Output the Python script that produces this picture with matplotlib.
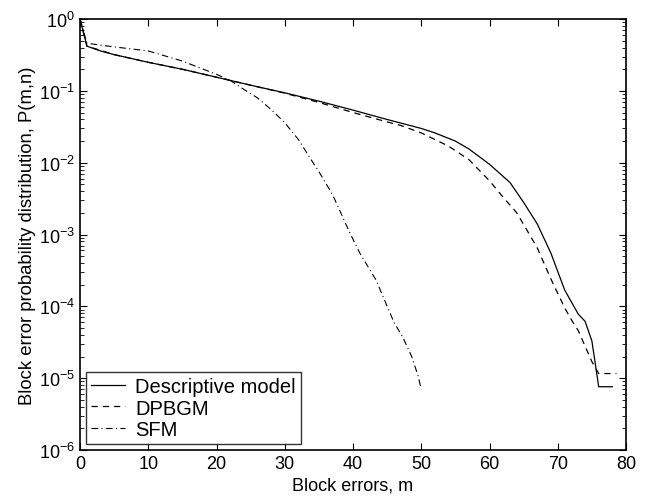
import numpy as np
import matplotlib.pyplot as plt

plt.rcParams['font.family'] = ['Liberation Sans', 'DejaVu Sans']

# Descriptive model (solid)
x_desc = [0, 1, 3, 5, 10, 15, 20, 25, 30, 35, 40, 45, 50, 52, 55, 57, 60, 63, 65, 67,
          69, 71, 72, 73, 74, 75, 76, 77, 78]
y_desc = [1.0, 0.42, 0.36, 0.32, 0.25, 0.2, 0.155, 0.12, 0.094, 0.072, 0.054, 0.040,
          0.030, 0.026, 0.020, 0.0155, 0.0095, 0.0053, 0.0028, 0.0014,
          5.5e-4, 1.7e-4, 1.15e-4, 7.8e-5, 6.2e-5, 3.3e-5, 7.6e-6, 7.6e-6, 7.6e-6]

# DPBGM (dashed)
x_dp = [0, 1, 5, 10, 15, 20, 25, 30, 35, 40, 45, 47, 50, 54, 57, 60, 62, 64, 66, 67,
        69, 71, 72, 73, 74, 75, 76, 77, 78, 78.6]
y_dp = [1.0, 0.42, 0.32, 0.25, 0.2, 0.155, 0.12, 0.093, 0.069, 0.05, 0.037, 0.033,
        0.026, 0.017, 0.011, 0.0056, 0.0033, 0.0020, 9.5e-4, 6.5e-4,
        2.4e-4, 9.6e-5, 6.5e-5, 4.6e-5, 2.8e-5, 1.7e-5, 1.16e-5, 1.16e-5, 1.16e-5, 1.16e-5]

# SFM (dash-dot)
x_sfm = [0, 1, 5, 10, 15, 20, 22, 24, 26, 28, 30, 32, 34, 35, 37, 39.5, 41, 43.4,
         45, 46, 47.3, 48.6, 49.5, 50]
y_sfm = [1.0, 0.46, 0.41, 0.36, 0.26, 0.17, 0.14, 0.105, 0.08, 0.055, 0.036, 0.021,
         0.0105, 0.0075, 0.0036, 1.07e-3, 5.5e-4, 2.3e-4,
         1.0e-4, 6e-5, 3.7e-5, 2.0e-5, 1.1e-5, 7e-6]

fig = plt.figure(figsize=(6.51, 5.02), dpi=100)
ax = fig.add_axes([0.123, 0.1016, 0.8386, 0.8584])

ax.semilogy(x_desc, y_desc, 'k-', lw=0.9, label='Descriptive model')
ax.semilogy(x_dp, y_dp, 'k--', lw=0.9, dashes=(5, 4), label='DPBGM')
ax.semilogy(x_sfm, y_sfm, 'k-.', lw=0.8, dashes=(6, 3, 1, 3), label='SFM')

ax.set_xlim(0, 80)
ax.set_ylim(1e-6, 1e0)
ax.set_xticks(np.arange(0, 81, 10))
ax.tick_params(which='both', direction='in', top=True, right=True, labelsize=13)
ax.tick_params(which='major', length=5)
ax.tick_params(which='minor', length=3)
for s in ax.spines.values():
    s.set_linewidth(1.2)

ax.set_xlabel('Block errors, m', fontsize=13, labelpad=3)
ax.set_ylabel('Block error probability distribution, P(m,n)', fontsize=13.3, labelpad=2)

leg = ax.legend(loc='lower left', fontsize=14.5, frameon=True, fancybox=False,
                edgecolor='k', borderaxespad=0.3, handlelength=1.7,
                handletextpad=0.5, labelspacing=0.12, borderpad=0.25)
leg.get_frame().set_linewidth(1.0)

fig.savefig('out.png', dpi=100)
